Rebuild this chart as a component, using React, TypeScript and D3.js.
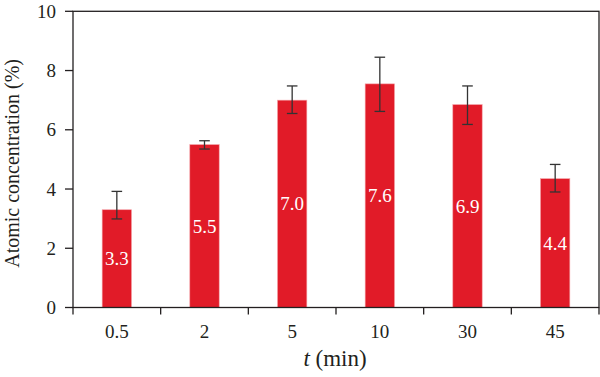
import React from "react";
import * as d3 from "d3";

const categories = ["0.5", "2", "5", "10", "30", "45"];
const values = [3.3, 5.5, 7.0, 7.55, 6.85, 4.35];
const labels = ["3.3", "5.5", "7.0", "7.6", "6.9", "4.4"];
const errLow = [2.99, 5.35, 6.55, 6.62, 6.18, 3.9];
const errHigh = [3.92, 5.63, 7.48, 8.45, 7.48, 4.83];
const yTicks = [0, 2, 4, 6, 8, 10];

const W = 600;
const H = 377;
const left = 73;
const right = 599;
const top = 11.3;
const bottom = 307.5;
const FONT = "Liberation Serif";
const red = "#e11b28";
const axisCol = "#231f20";

export default function App() {
  const x = d3.scaleBand<string>().domain(categories).range([left, right]).paddingInner(0).paddingOuter(0);
  const y = d3.scaleLinear().domain([0, 10]).range([bottom, top]);
  const bw = x.bandwidth() * 0.335;
  const cx = (c: string) => x(c)! + x.bandwidth() / 2;
  const bounds = categories.map((c) => x(c)!).concat([right]);
  return (
    <svg width={W} height={H} style={{ position: "absolute", left: 0, top: 0, background: "#fff" }}>
      {categories.map((c, i) => (
        <rect key={"b" + c} x={cx(c) - bw / 2} y={y(values[i])} width={bw} height={y(0) - y(values[i])}
          fill={red} stroke="#f4a3a8" strokeWidth={0.6} />
      ))}
      <g stroke="#333" strokeWidth={1.3}>
        {categories.map((c, i) => (
          <g key={"e" + c}>
            <line x1={cx(c)} x2={cx(c)} y1={y(errLow[i])} y2={y(errHigh[i])} />
            <line x1={cx(c) - 5.3} x2={cx(c) + 5.3} y1={y(errLow[i])} y2={y(errLow[i])} />
            <line x1={cx(c) - 5.3} x2={cx(c) + 5.3} y1={y(errHigh[i])} y2={y(errHigh[i])} />
          </g>
        ))}
      </g>
      {categories.map((c, i) => (
        <text key={"l" + c} x={cx(c)} y={(y(values[i]) + y(0)) / 2} dy="0.35em" textAnchor="middle"
          fill="#fff" fontFamily={FONT} fontSize={19}>{labels[i]}</text>
      ))}
      <rect x={left} y={top} width={right - left} height={bottom - top} fill="none" stroke={axisCol} strokeWidth={1.3} />
      {yTicks.map((t) => (
        <g key={"y" + t}>
          <line x1={left - 8} x2={left} y1={y(t)} y2={y(t)} stroke={axisCol} strokeWidth={1.3} />
          <text x={left - 17} y={y(t)} dy="0.35em" textAnchor="end" fontFamily={FONT} fontSize={19} fill={axisCol}>{t}</text>
        </g>
      ))}
      {bounds.map((b, i) => (
        <line key={"xt" + i} x1={b} x2={b} y1={bottom} y2={bottom + 7} stroke={axisCol} strokeWidth={1.3} />
      ))}
      {categories.map((c) => (
        <text key={"xl" + c} x={cx(c)} y={bottom + 24} dy="0.35em" textAnchor="middle" fontFamily={FONT} fontSize={19} fill={axisCol}>{c}</text>
      ))}
      <text x={(left + right) / 2 - 1} y={358} dy="0.35em" textAnchor="middle" fontFamily={FONT} fontSize={23} fill={axisCol}>
        <tspan fontStyle="italic">t</tspan> (min)
      </text>
      <text transform={`translate(12,${(top + bottom) / 2 + 4}) rotate(-90)`} dy="0.35em" textAnchor="middle"
        fontFamily={FONT} fontSize={20} fill={axisCol}>Atomic concentration (%)</text>
    </svg>
  );
}
